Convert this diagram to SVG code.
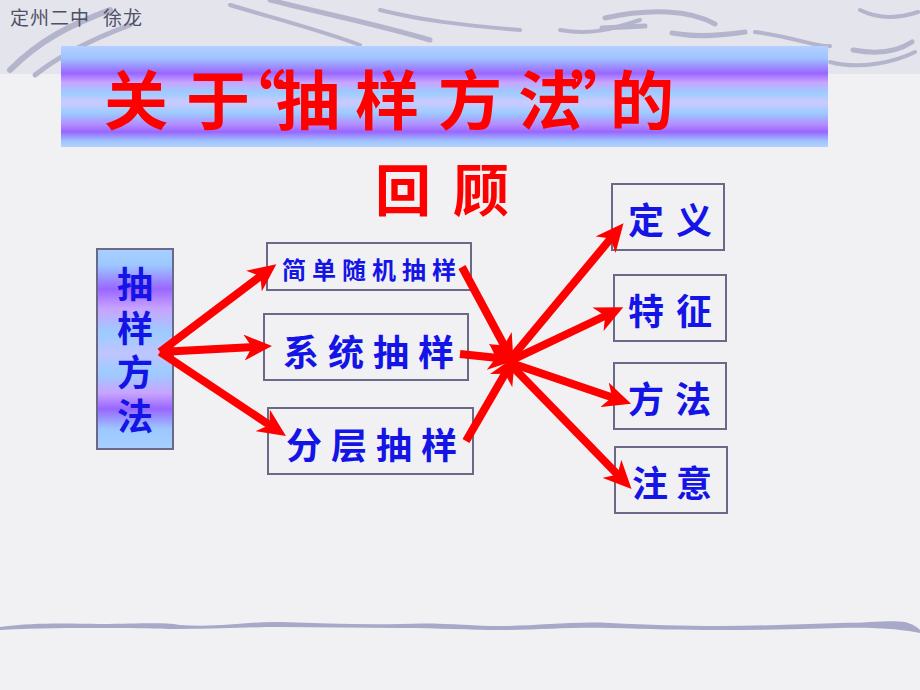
<svg xmlns="http://www.w3.org/2000/svg" width="920" height="690" viewBox="0 0 920 690">
<defs>
<linearGradient id="band" x1="0" y1="0" x2="0" y2="1">
<stop offset="0" stop-color="#b4d0ff"/>
<stop offset="0.12" stop-color="#9fc4ff"/>
<stop offset="0.27" stop-color="#9a66ff"/>
<stop offset="0.36" stop-color="#c8a4ff"/>
<stop offset="0.46" stop-color="#9cccff"/>
<stop offset="0.56" stop-color="#cccaff"/>
<stop offset="0.66" stop-color="#9cccff"/>
<stop offset="0.78" stop-color="#b28cff"/>
<stop offset="0.85" stop-color="#9966ff"/>
<stop offset="0.94" stop-color="#9fc4ff"/>
<stop offset="1" stop-color="#b4d0ff"/>
</linearGradient>
<linearGradient id="vband" x1="0" y1="0" x2="0" y2="1">
<stop offset="0" stop-color="#a8d0ff"/>
<stop offset="0.08" stop-color="#9cc8ff"/>
<stop offset="0.2" stop-color="#9a66ff"/>
<stop offset="0.3" stop-color="#c8a4ff"/>
<stop offset="0.42" stop-color="#9cccff"/>
<stop offset="0.52" stop-color="#c0c4ff"/>
<stop offset="0.62" stop-color="#9cccff"/>
<stop offset="0.72" stop-color="#c8a4ff"/>
<stop offset="0.8" stop-color="#9966ff"/>
<stop offset="0.9" stop-color="#9cc8ff"/>
<stop offset="1" stop-color="#a8d0ff"/>
</linearGradient>
<marker id="ah" viewBox="0 0 28 26" refX="10" refY="13" markerWidth="28" markerHeight="26" markerUnits="userSpaceOnUse" orient="auto">
<path d="M0,0 L28,13 L0,26 L8,13 Z" fill="#ff0000"/>
</marker>
<style>
.box{fill:none;stroke:#6a6a88;stroke-width:2}
.gbox{fill:url(#vband);stroke:#6a6a88;stroke-width:2}
.cn{font-family:"Noto Sans CJK SC","Noto Sans CJK JP",sans-serif;}
.blue{fill:#1414e6;font-weight:bold}
.red{fill:#ff0000;font-weight:bold}
.arr{stroke:#ff0000;stroke-width:8;fill:none;marker-end:url(#ah)}
.sw{fill:none;stroke:#b4b4cc;stroke-linecap:round}
</style>
</defs>
<rect x="0" y="0" width="920" height="690" fill="#f1f1f4"/>
<rect x="0" y="0" width="920" height="74" fill="#e4e4ec"/>
<g id="decor">
<path class="sw" stroke-width="6" d="M10,70 C40,40 70,25 110,10"/>
<path class="sw" stroke-width="5" d="M35,75 C60,55 90,40 130,25"/>
<path class="sw" stroke-width="4" d="M230,5 C280,20 320,30 360,45"/>
<path class="sw" stroke-width="5" d="M270,0 C330,15 380,25 430,40"/>
<path class="sw" stroke-width="4" d="M380,10 C420,20 460,25 520,30"/>
<path class="sw" stroke-width="4" d="M560,30 C590,35 610,30 640,20"/>
<path class="sw" stroke-width="5" d="M605,18 C650,8 690,10 715,24"/>
<path class="sw" stroke-width="5" d="M602,28 L645,26"/>
<path class="sw" stroke-width="5" d="M672,33 C700,38 725,35 745,32"/>
<path class="sw" stroke-width="4" d="M755,32 C790,36 820,48 830,46"/>
<path class="sw" stroke-width="5" d="M853,50 C880,55 900,50 912,42"/>
<path class="sw" stroke-width="4" d="M830,62 C860,70 895,62 915,52"/>
<path class="sw" stroke-width="4" d="M860,10 C880,20 900,18 918,12"/>
<path d="M0,627 C40,622 70,624 100,624 C140,624 160,622 180,625 C220,628 250,621 280,622 C320,623 360,625 400,624 C440,622 470,626 500,626 C540,626 570,621 610,623 C650,625 680,626 720,626 C760,626 800,624 840,623 C870,623 890,620 905,622 C912,624 918,627 920,630 L920,633 C905,630 880,627 840,628 C800,629 760,630 720,630 C680,630 650,629 610,628 C570,627 540,630 500,630 C470,630 440,628 400,628 C360,628 320,627 280,627 C250,627 220,629 180,629 C160,629 140,628 100,628 C70,628 40,628 0,630 Z" fill="#a8a8c8"/>
</g>
<text class="cn" font-size="19" y="25" x="10 30 50 70 103 123" fill="#4e5068">定州二中徐龙</text>
<g id="title">
<rect x="61" y="46" width="767" height="101" fill="url(#band)"/>
<text class="cn red" font-size="64" y="124" x="104 186 222 276 355 438 518 570 610">关于“抽样方法”的</text>
<text class="cn red" font-size="56" y="211" x="375 453">回顾</text>
</g>
<g id="n-method">
<rect class="gbox" x="97" y="249" width="76" height="200"/>
<text class="cn blue" font-size="36" x="135" y="266" letter-spacing="8" style="writing-mode:vertical-rl">抽样方法</text>
</g>
<g id="n-simple">
<rect class="box" x="267" y="243" width="204" height="47"/>
<text class="cn blue" font-size="24" x="282" y="279" letter-spacing="6">简单随机抽样</text>
</g>
<g id="n-system">
<rect class="box" x="264" y="314" width="204" height="66"/>
<text class="cn blue" font-size="36" x="283" y="366" letter-spacing="9">系统抽样</text>
</g>
<g id="n-strat">
<rect class="box" x="268" y="408" width="205" height="66"/>
<text class="cn blue" font-size="36" x="286" y="459" letter-spacing="9">分层抽样</text>
</g>
<g id="n-def">
<rect class="box" x="612" y="184" width="112" height="66"/>
<text class="cn blue" font-size="36" x="628" y="234" letter-spacing="12">定义</text>
</g>
<g id="n-feat">
<rect class="box" x="614" y="275" width="112" height="66"/>
<text class="cn blue" font-size="36" x="628" y="325" letter-spacing="12">特征</text>
</g>
<g id="n-way">
<rect class="box" x="614" y="363" width="112" height="66"/>
<text class="cn blue" font-size="36" x="628" y="413" letter-spacing="11">方法</text>
</g>
<g id="n-note">
<rect class="box" x="615" y="447" width="112" height="66"/>
<text class="cn blue" font-size="36" x="632" y="497" letter-spacing="8">注意</text>
</g>
<g id="connectors">
<line class="arr" x1="160" y1="352" x2="262" y2="275"/>
<line class="arr" x1="160" y1="352" x2="254" y2="347"/>
<line class="arr" x1="160" y1="352" x2="271" y2="426"/>
<line class="arr" x1="462" y1="267" x2="505" y2="347"/>
<line class="arr" x1="460" y1="354" x2="498" y2="358"/>
<line class="arr" x1="466" y1="441" x2="506" y2="372"/>
<line class="arr" x1="508" y1="362" x2="612" y2="237"/>
<line class="arr" x1="508" y1="362" x2="607" y2="315"/>
<line class="arr" x1="508" y1="362" x2="614" y2="398"/>
<line class="arr" x1="508" y1="362" x2="619" y2="476"/>
</g>
</svg>
